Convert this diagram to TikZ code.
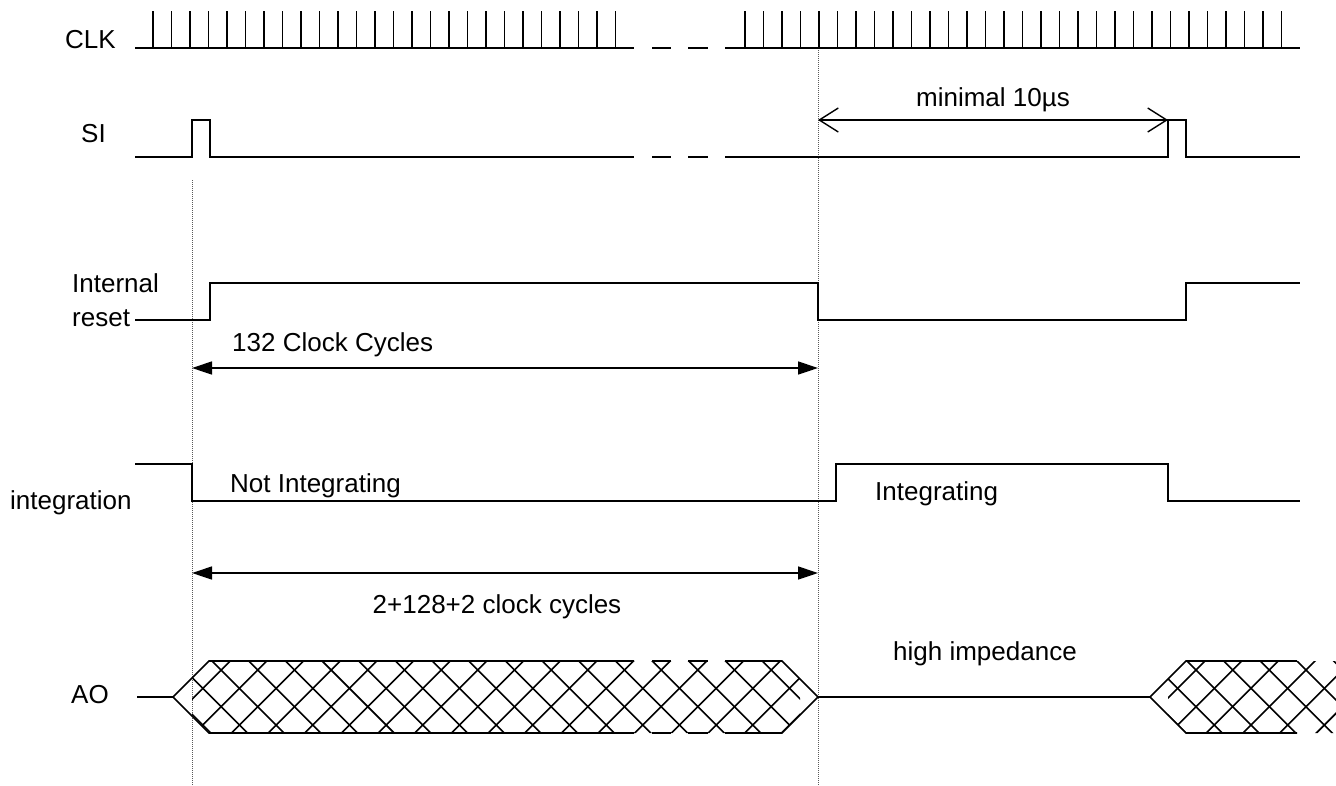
\documentclass[tikz,border=0pt]{standalone}
\usepackage{fontspec}
\setmainfont{Liberation Sans}
\usetikzlibrary{arrows.meta}
\begin{document}
\begin{tikzpicture}[x=1pt,y=-1pt,
  sig/.style={line width=1.6pt, line join=miter},
  hatch/.style={line width=1.6pt},
  guide/.style={line width=0.9pt, gray!70!black, dash pattern=on 1pt off 1pt},
  txt/.style={font=\fontsize{26}{30}\selectfont, inner sep=0pt},
  dimfill/.style={line width=1.4pt, {Triangle[length=20pt,width=13pt]}-{Triangle[length=20pt,width=13pt]}},
  dimopen/.style={line width=1.4pt, {Straight Barb[length=19pt,width=24pt,line width=1.4pt]}-{Straight Barb[length=19pt,width=24pt,line width=1.4pt]}}
]
\useasboundingbox (0,0) rectangle (1336,785);
\fill[white] (0,0) rectangle (1336,785);

% guides
\draw[guide] (192,180) -- (192,785);
\draw[guide] (818,48) -- (818,785);

% labels
\node[txt, anchor=east] (lclk) at (116,40) {CLK};
\node[txt, anchor=east] (lsi) at (106,134) {SI};
\node[txt, anchor=west] (lir1) at (72,283) {Internal};
\node[txt, anchor=west] (lir2) at (72,318) {reset};
\node[txt, anchor=west] (lint) at (10,503) {integration};
\node[txt] (lao) at (90,695) {AO};

% CLK
\draw[sig] (135,48) -- (634,48);
\draw[sig] (652,48) -- (671,48);
\draw[sig] (688,48) -- (708,48);
\draw[sig] (725,48) -- (1300,48);
\foreach \i in {0,...,25} \draw[sig] ({153+18.5*\i},11) -- ({153+18.5*\i},48);
\foreach \i in {0,...,29} \draw[sig] ({745+18.5*\i},11) -- ({745+18.5*\i},48);

% SI
\draw[sig] (135,157) -- (192,157) -- (192,120) -- (210,120) -- (210,157) -- (634,157);
\draw[sig] (652,157) -- (671,157);
\draw[sig] (688,157) -- (708,157);
\draw[sig] (725,157) -- (1168,157) -- (1168,120) -- (1186,120) -- (1186,157) -- (1300,157);

% minimal 10us
\coordinate (m1) at (818,120);
\coordinate (m2) at (1168,120);
\draw[dimopen] (m1) -- (m2);
\node[txt] (lmin) at (993,100) {minimal 10µs};

% Internal reset
\draw[sig] (135,320) -- (210,320) -- (210,283) -- (818,283) -- (818,320) -- (1186,320) -- (1186,283) -- (1300,283);

% 132 clock cycles
\coordinate (c1) at (192,368);
\coordinate (c2) at (818,368);
\draw[dimfill] (c1) -- (c2);
\node[txt, anchor=west] (l132) at (232,345) {132 Clock Cycles};

% integration
\draw[sig] (135,464) -- (192,464) -- (192,501) -- (836,501) -- (836,464) -- (1168,464) -- (1168,501) -- (1300,501);
\node[txt, anchor=west] (lnot) at (230,486) {Not Integrating};
\node[txt, anchor=west] (lintg) at (875,494) {Integrating};

% 2+128+2
\coordinate (d1) at (192,573);
\coordinate (d2) at (818,573);
\draw[dimfill] (d1) -- (d2);
\node[txt] (l2128) at (497,607) {2+128+2 clock cycles};

% AO
\draw[sig] (137,697) -- (173,697);
\draw[sig] (634,661) -- (209,661) -- (173,697) -- (209,733) -- (634,733);
\draw[sig] (652,661) -- (671,661);
\draw[sig] (688,661) -- (708,661);
\draw[sig] (652,733) -- (671,733);
\draw[sig] (688,733) -- (708,733);
\draw[sig] (725,661) -- (782,661) -- (818,697) -- (782,733) -- (725,733);
\begin{scope}
\clip (192,679) -- (210,661) -- (782,661) -- (800,679) -- (800,715) -- (782,733) -- (210,733) -- (192,715) -- cycle;
\foreach \k in {2,...,24} {
  \draw[hatch] ({1.1+36.67*\k-120},550) -- ({1.1+36.67*\k+120},790);
  \draw[hatch] ({1.1+36.67*\k-120},790) -- ({1.1+36.67*\k+120},550);
}
\end{scope}
\draw[sig] (818,697) -- (1150,697) -- (1186,661) -- (1297,661);
\draw[sig] (1150,697) -- (1186,733) -- (1297,733);
\begin{scope}
\clip (1168,679) -- (1186,661) -- (1336,661) -- (1336,733) -- (1186,733) -- (1168,715) -- cycle;
\foreach \k in {-3,...,6} {
  \draw[hatch] ({1196+36.67*\k-120},550) -- ({1196+36.67*\k+120},790);
  \draw[hatch] ({1196+36.67*\k-120},790) -- ({1196+36.67*\k+120},550);
}
\end{scope}
\node[txt, anchor=west] (lhigh) at (893,654) {high impedance};
\end{tikzpicture}
\end{document}
